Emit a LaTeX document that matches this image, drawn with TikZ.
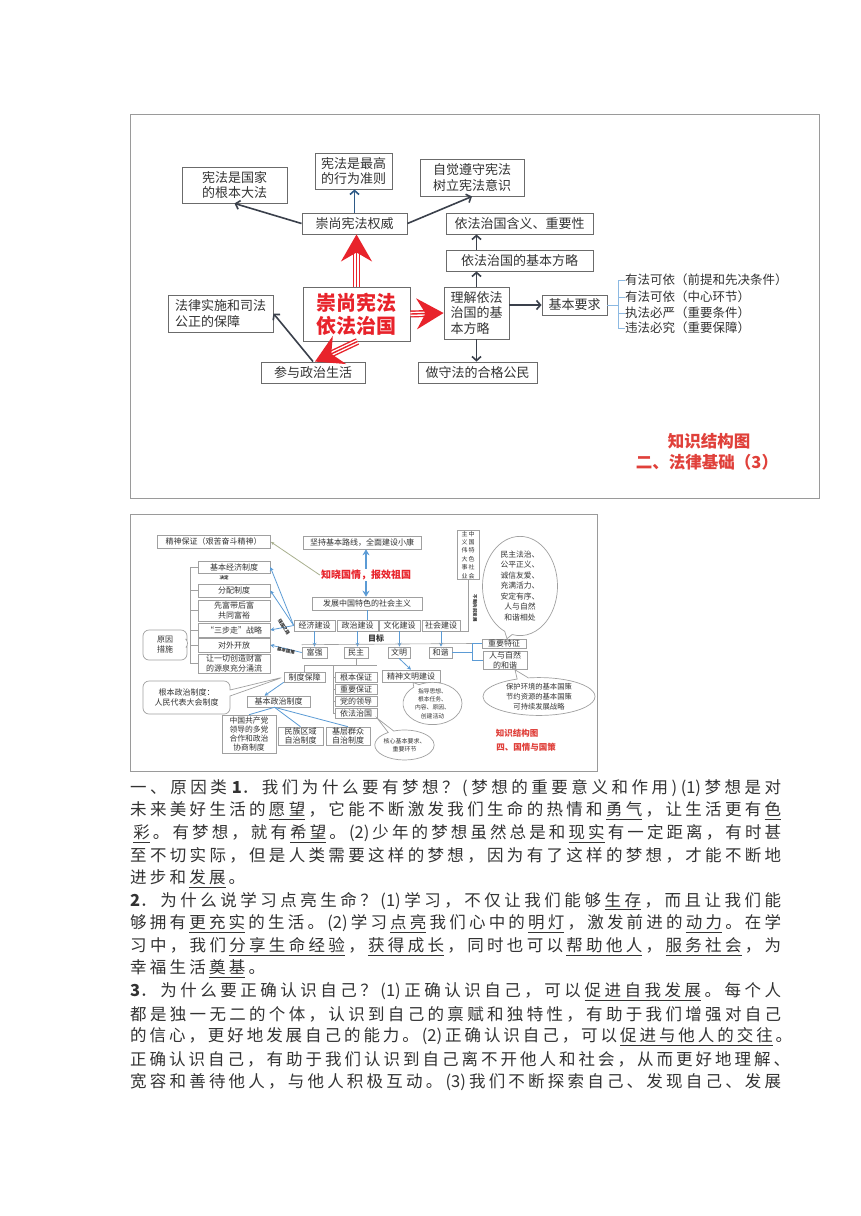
\documentclass[tikz,border=0pt]{standalone}
\usepackage{fontspec}
\setmainfont{Noto Sans CJK SC}
\usetikzlibrary{arrows.meta,shapes.callouts,shapes.geometric}
\chardef\myCJK=250
\newcount\mycnt
\mycnt="4E00
\loop \XeTeXcharclass\mycnt=\myCJK \advance\mycnt by 1 \ifnum\mycnt<"A000 \repeat
\mycnt="3000
\loop \XeTeXcharclass\mycnt=\myCJK \advance\mycnt by 1 \ifnum\mycnt<"3040 \repeat
\mycnt="FF01
\loop \XeTeXcharclass\mycnt=\myCJK \advance\mycnt by 1 \ifnum\mycnt<"FF61 \repeat
\newcommand{\cjkglue}{\hskip 0pt plus 3pt\relax}
\XeTeXinterchartoks\myCJK\myCJK = {\cjkglue}
\XeTeXinterchartoks 0 \myCJK = {\cjkglue}
\XeTeXinterchartoks\myCJK 0 = {\cjkglue}
\XeTeXinterchartokenstate=1
\definecolor{txt}{HTML}{333333}
\definecolor{boxgray}{HTML}{6B6B6B}
\definecolor{dark}{HTML}{3A404B}
\definecolor{navy}{HTML}{2E5A87}
\definecolor{cred}{HTML}{E8232B}
\definecolor{capred}{HTML}{E0403A}
\definecolor{lgray}{HTML}{A0A0A0}
\definecolor{lblue}{HTML}{5B9BD5}
\definecolor{olivegray}{HTML}{A9B08F}
\definecolor{framegray}{HTML}{9A9A9A}
\newcommand{\bx}[7][]{\node[box,#1,minimum width={(#5-#3)*1pt},minimum height={(#6-#4)*1pt}] (#2) at ({(#3+#5)/2},{(#4+#6)/2}) {#7};}
\newcommand{\redtri}[2]{%
  \draw[cred, line width=7pt, shorten >=19pt] #1 -- #2;
  \draw[white, line width=4.2pt, shorten >=19pt] #1 -- #2;
  \draw[cred, line width=1.4pt, -{Stealth[length=27pt,width=31pt,inset=9pt]}] #1 -- #2;}
% underline with stretchable gaps
\newbox\ulbox
\def\mygobble#1{}
\def\myfirst#1{#1}
\newcommand{\ulgap}{\leaders\hrule height -3.1pt depth 3.6pt\hskip 0pt plus 3pt\relax}
\newcommand{\ulchar}[1]{\setbox\ulbox\hbox{#1}\rlap{\rule[-3.6pt]{\wd\ulbox}{0.5pt}}\box\ulbox}
\def\ulrec#1#2{\ulchar{#1}\ifx#2\relax\expandafter\mygobble\else\expandafter\myfirst\fi{\ulgap\ulrec#2}}
\newcommand{\myul}[1]{\cjkglue\ulrec#1\relax\cjkglue}
\newcommand{\jline}[2]{\parbox{#1}{\XeTeXlinebreaklocale "zh"\XeTeXlinebreakskip=0pt plus 3pt\relax\parfillskip=0pt\tolerance=10000\emergencystretch=0pt\noindent #2}}
\begin{document}
\begin{tikzpicture}[x=1pt,y=-1pt,
  box/.style={draw=boxgray, line width=0.9pt, fill=white, inner sep=1pt, align=center, text=txt, font=\fontsize{13}{15.5}\selectfont},
  sbox/.style={draw=lgray, line width=0.6pt, fill=white, inner sep=0.5pt, align=center, text=txt, font=\fontsize{8}{9.6}\selectfont},
  coretext/.style={text=cred, font=\fontsize{20}{23}\selectfont\bfseries},
  darr/.style={draw=dark, line width=1.6pt, -{Straight Barb[length=4pt,width=9pt]}},
  narr/.style={draw=navy, line width=1.6pt, -{Straight Barb[length=4pt,width=9pt]}},
  lst/.style={anchor=west, inner sep=0, text=txt, font=\fontsize{12.5}{14}\selectfont},
  bkt/.style={draw=lblue!70, line width=0.8pt},
  gline/.style={draw=lgray, line width=0.6pt},
  bline/.style={draw=lblue, line width=0.8pt},
  barr/.style={draw=lblue, line width=0.8pt, -{Stealth[length=4pt,width=4pt]}},
  bthick/.style={draw=lblue, line width=1.6pt, -{Stealth[length=6pt,width=7pt]}},
  tinyt/.style={inner sep=0, text=txt, font=\fontsize{4.5}{5}\selectfont\bfseries},
  rcall/.style={rectangle callout, rounded corners=6pt, draw=lgray, line width=0.7pt, fill=white, align=center, text=txt, inner sep=0, callout pointer width=6pt, font=\fontsize{8}{10}\selectfont},
  ecall/.style={ellipse callout, draw=lgray, line width=0.7pt, fill=white, align=center, text=txt, inner sep=0, callout pointer arc=12},
  cap1/.style={text=capred, font=\fontsize{16.5}{18}\selectfont\bfseries, inner sep=0},
  cap2/.style={text=capred, font=\fontsize{8.5}{10}\selectfont\bfseries, inner sep=0},
  body/.style={anchor=west, inner sep=0, text=txt, font=\fontsize{16.5}{20}\selectfont}]
\useasboundingbox (0,0) rectangle (860,1216);
\fill[white] (0,0) rectangle (860,1216);

% ===== top diagram =====
\draw[draw=framegray, line width=1pt] (130,114) rectangle (819,498);
\bx{c1}{182}{167}{287}{203}{宪法是国家\\的根本大法}
\bx{c2}{315}{153}{392}{189}{宪法是最高\\的行为准则}
\bx[align=left]{c3}{420}{159}{524}{196}{自觉遵守宪法\\树立宪法意识}
\bx{auth}{302}{213}{407}{234}{崇尚宪法权威}
\bx{mean}{446}{213}{593}{234}{依法治国含义、重要性}
\bx{basic}{446}{250}{593}{271}{依法治国的基本方略}
\bx[align=left]{und}{444}{287}{509}{339}{理解依法\\治国的基\\本方略}
\bx{req}{542}{295}{607}{315}{基本要求}
\bx[coretext]{core}{303}{287}{410}{341}{崇尚宪法\\依法治国}
\bx[align=left]{law}{168}{295}{273}{332}{法律实施和司法\\公正的保障}
\bx{pol}{261}{362}{365}{383}{参与政治生活}
\bx{cit}{418}{362}{537}{383}{做守法的合格公民}

\node[lst] (l1) at (625,280) {有法可依（前提和先决条件）};
\node[lst] (l2) at (625,297) {有法可依（中心环节）};
\node[lst] (l3) at (625,313) {执法必严（重要条件）};
\node[lst] (l4) at (625,328) {违法必究（重要保障）};
\coordinate (bk) at (618,0);
\draw[bkt] (req.east) -- (req.east -| bk);
\draw[bkt] (bk |- l1.west) -- (bk |- l4.west);
\foreach \n in {l1,l2,l3,l4} \draw[bkt] (bk |- \n.west) -- (\n.west);

\draw[darr] (auth.west) -- (c1.south);
\draw[narr] (auth.north) -- (auth.north |- c2.south);
\draw[darr] (auth.east) -- (c3.south);
\draw[darr] (und.north) -- (und.north |- basic.south);
\draw[darr] (und.north |- basic.north) -- (und.north |- mean.south);
\draw[darr] (und.south) -- (und.south |- cit.north);
\draw[darr] (und.east |- req.west) -- (req.west);
\draw[darr] (pol.north) -- (law.east);
\redtri{(core.north)}{(core.north |- auth.south)}
\redtri{(core.east)}{(und.west)}
\redtri{([xshift=1pt]core.south)}{([xshift=2pt]pol.north)}

\node[cap1] (k1a) at (709,441) {知识结构图};
\node[cap1] (k1b) at (707,462) {二、法律基础（3）};

% ===== second diagram =====
\draw[draw=framegray, line width=1pt] (130,514) rectangle (597,771);
\bx[sbox]{jsbz}{157}{535}{270}{548}{精神保证（艰苦奋斗精神）}
\bx[sbox]{jbjj}{198}{561}{270}{573}{基本经济制度}
\bx[sbox]{fpzd}{198}{584}{270}{597}{分配制度}
\bx[sbox]{xfdh}{198}{600}{270}{621}{先富带后富\\共同富裕}
\bx[sbox]{sbz}{198}{623}{270}{637}{“三步走”战略}
\bx[sbox]{dwkf}{198}{638}{270}{652}{对外开放}
\bx[sbox]{rqy}{198}{654}{270}{673}{让一切创造财富\\的源泉充分涌流}
\node[tinyt] (jd) at (224,578) {决定};
\bx[sbox]{jc}{303}{536}{421}{549}{坚持基本路线，全面建设小康}
\node[fill=white, inner sep=1pt, text=cred, font=\fontsize{10}{12}\selectfont\bfseries] (zx) at (366,575) {知晓国情，报效祖国};
\bx[sbox]{fz}{312}{597}{422}{610}{发展中国特色的社会主义}
\bx[sbox]{jj}{294}{620}{335}{631}{经济建设}
\bx[sbox]{zz}{337}{620}{378}{631}{政治建设}
\bx[sbox]{wh}{379}{620}{420}{631}{文化建设}
\bx[sbox]{sh}{422}{620}{460}{631}{社会建设}
\node[inner sep=0, text=txt, font=\fontsize{8}{9}\selectfont\bfseries] (mb) at (376,638) {目标};
\bx[sbox]{fq}{302}{647}{327}{658}{富强}
\bx[sbox]{mz}{344}{647}{368}{658}{民主}
\bx[sbox]{wm}{388}{647}{410}{658}{文明}
\bx[sbox]{hx}{429}{647}{452}{658}{和谐}
\bx[sbox,font=\fontsize{6}{7}\selectfont]{wd}{457}{533}{479}{577}{\shortstack{主\\义\\伟\\大\\事\\业}\hspace{1pt}\shortstack{中\\国\\特\\色\\社\\会}}
\node[tinyt, rotate=-90] (bdxq) at (475,608) {不断向前发展};
\bx[sbox]{zytz}{482}{639}{526}{648}{重要特征}
\bx[sbox]{rzr}{483}{653}{527}{668}{人与自然\\的和谐}
\bx[sbox]{zdbz}{284}{672}{325}{682}{制度保障}
\bx[sbox]{gbbz}{335}{672}{377}{682}{根本保证}
\bx[sbox]{zybz}{335}{684}{377}{694}{重要保证}
\bx[sbox]{ddld}{335}{696}{377}{706}{党的领导}
\bx[sbox]{yfzg}{335}{708}{377}{718}{依法治国}
\bx[sbox]{jswm}{382}{670}{440}{682}{精神文明建设}
\bx[sbox]{jbzz}{247}{696}{310}{707}{基本政治制度}
\bx[sbox,font=\fontsize{7.8}{9.3}\selectfont]{zggc}{222}{715}{276}{753}{中国共产党\\领导的多党\\合作和政治\\协商制度}
\bx[sbox]{mzqy}{278}{727}{323}{745}{民族区域\\自治制度}
\bx[sbox]{jcqz}{326}{727}{370}{745}{基层群众\\自治制度}

% left bracket
\coordinate (lb) at (190,600);
\coordinate (lbp) at (190,643);
\draw[gline] (lb |- jbjj.west) -- (lb |- rqy.west);
\foreach \n in {jbjj,fpzd,xfdh,sbz,dwkf,rqy} \draw[gline] (lb |- \n.west) -- (\n.west);
\draw[draw=olivegray, line width=0.8pt, -{Latex[length=4pt,width=3pt]}] (zx.west) -- (jsbz.east);
\draw[bthick] (zx.north) -- (zx.north |- jc.south);
\draw[bthick] (zx.south) -- (zx.south |- fz.north);
\draw[bline] (fz.south) -- (fz.south |- zz.north);
\foreach \a/\b in {jj/fq, zz/mz, wh/wm, sh/hx} \draw[barr] (\a.south) -- (\a.south |- \b.north);
\draw[barr] (jj.west) -- (jbjj.east);
\draw[barr] (jj.west) -- (fpzd.east);
\draw[barr] (jj.west) -- (sbz.east);
\draw[barr] (fq.west) -- (dwkf.east);
\node[tinyt, rotate=-58] (qgzl) at (284,627) {强国之路};
\node[tinyt, rotate=-12] (jbgc) at (286,651) {基本国策};
\draw[gline] (wd.south) |- (sh.south east);
% goal line and right bracket
\coordinate (rbk) at (472,0);
\draw[gline] ([yshift=2pt]fq.north west) -- (rbk |- zytz.west);
\draw[bline] (hx.east) -- (hx.east -| rbk);
\draw[bline] (rbk |- zytz.west) -- (rbk |- rzr.west);
\draw[bline] (rbk |- zytz.west) -- (zytz.west);
\draw[bline] (rbk |- rzr.west) -- (rzr.west);
% democracy split
\coordinate (sp) at (0,665);
\coordinate (rb) at (333,0);
\draw[gline] (mz.south) -- (mz.south |- sp);
\draw[gline] (zdbz.north |- sp) -- (gbbz.east |- sp);
\draw[gline] (zdbz.north |- sp) -- (zdbz.north);
\draw[gline] (rb |- sp) -- (rb |- yfzg.west);
\foreach \n in {gbbz,zybz,ddld,yfzg} \draw[gline] (rb |- \n.west) -- (\n.west);
\draw[barr] (wm.south) -- (jswm.north);
\draw[barr] (zdbz.south west) -- ([xshift=-14pt]jbzz.north);
\coordinate (jb) at ([xshift=-4pt]jbzz.south);
\draw[bline] (jb) -- (zggc.north);
\draw[bline] (jb) -- (mzqy.north);
\draw[bline] (jb) -- (jcqz.north);

% callouts
\node[rcall, minimum width=44pt, minimum height=30pt, callout absolute pointer={(lbp)}] (yycs) at (165,645) {原因\\措施};
\node[rcall, minimum width=87pt, minimum height=33pt, callout absolute pointer={(zdbz.west)}] (gbzz) at (186.5,697.5) {根本政治制度：\\人民代表大会制度};
\node[ecall, minimum width=75pt, minimum height=87pt, callout absolute pointer={([xshift=3pt]zytz.north)}, font=\fontsize{7.8}{10.5}\selectfont] (e1) at (520,586) {民主法治、\\公平正义、\\诚信友爱、\\充满活力、\\安定有序、\\人与自然\\和谐相处};
\node[ecall, minimum width=112pt, minimum height=37pt, callout absolute pointer={([xshift=10pt]rzr.south)}, font=\fontsize{7.3}{10}\selectfont] (e2) at (539,696.5) {保护环境的基本国策\\节约资源的基本国策\\可持续发展战略};
\node[ecall, minimum width=59pt, minimum height=37pt, callout absolute pointer={([xshift=2pt]jswm.south)}, font=\fontsize{5.8}{8.2}\selectfont] (e3) at (432.5,703.5) {指导思想、\\根本任务、\\内容、原因、\\创建活动};
\node[ecall, minimum width=55pt, minimum height=30pt, callout absolute pointer={(yfzg.south east)}, font=\fontsize{6}{8.5}\selectfont] (e4) at (404.5,745) {核心基本要求、\\重要环节};

\node[cap2] (k2a) at (517,733) {知识结构图};
\node[cap2] (k2b) at (526,747) {四、国情与国策};

% ===== body text =====
\node[body] (t1) at (130,788.0) {\jline{651pt}{一、原因类\hspace{5pt}\textbf{1}．我们为什么要有梦想？(梦想的重要意义和作用)(1)梦想是对}};
\node[body] (t2) at (130,810.6) {\jline{651pt}{未来美好生活的\myul{愿望}，它能不断激发我们生命的热情和\myul{勇气}，让生活更有\myul{色}}};
\node[body] (t3) at (130,833.2) {\jline{651pt}{\myul{彩}。有梦想，就有\myul{希望}。(2)少年的梦想虽然总是和\myul{现实}有一定距离，有时甚}};
\node[body] (t4) at (130,855.8) {\jline{651pt}{至不切实际，但是人类需要这样的梦想，因为有了这样的梦想，才能不断地}};
\node[body] (t5) at (130,878.4) {\jline{115pt}{进步和\myul{发展}。}};
\node[body] (t6) at (130,901.0) {\jline{651pt}{\textbf{2}．为什么说学习点亮生命？(1)学习，不仅让我们能够\myul{生存}，而且让我们能}};
\node[body] (t7) at (130,923.6) {\jline{651pt}{够拥有\myul{更充实}的生活。(2)学习\myul{点亮}我们心中的\myul{明灯}，激发前进的\myul{动力}。在学}};
\node[body] (t8) at (130,946.2) {\jline{651pt}{习中，我们\myul{分享生命经验}，\myul{获得成长}，同时也可以\myul{帮助他人}，\myul{服务社会}，为}};
\node[body] (t9) at (130,968.8) {\jline{135pt}{幸福生活\myul{奠基}。}};
\node[body] (t10) at (130,991.4) {\jline{651pt}{\textbf{3}．为什么要正确认识自己？(1)正确认识自己，可以\myul{促进自我发展}。每个人}};
\node[body] (t11) at (130,1014.0) {\jline{651pt}{都是独一无二的个体，认识到自己的禀赋和独特性，有助于我们增强对自己}};
\node[body] (t12) at (130,1036.6) {\jline{662pt}{的信心，更好地发展自己的能力。(2)正确认识自己，可以\myul{促进与他人的交往}。}};
\node[body] (t13) at (130,1059.2) {\jline{660pt}{正确认识自己，有助于我们认识到自己离不开他人和社会，从而更好地理解、}};
\node[body] (t14) at (130,1081.8) {\jline{651pt}{宽容和善待他人，与他人积极互动。(3)我们不断探索自己、发现自己、发展}};
\end{tikzpicture}
\end{document}
